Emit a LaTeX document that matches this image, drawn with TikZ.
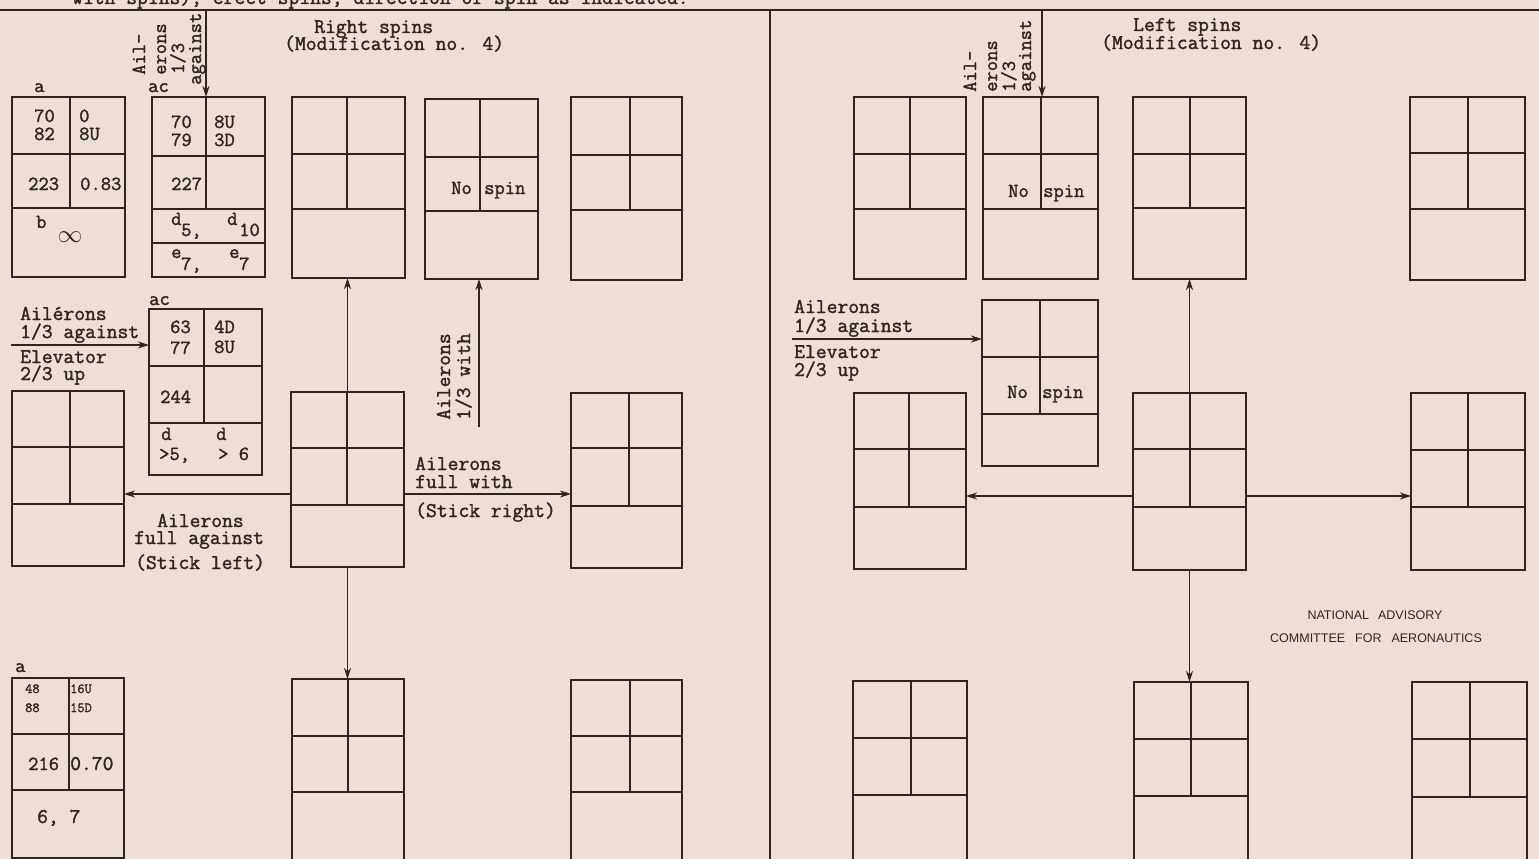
\documentclass[tikz,border=0pt]{standalone}
\usepackage{fontspec}
\newfontfamily\nacafont{Liberation Sans}
\newfontfamily\twfam{Latin Modern Mono}[FakeBold=1.6]
\usetikzlibrary{arrows.meta,calc}
\definecolor{paper}{HTML}{EEDFD5}
\definecolor{ink}{HTML}{2E2522}
\newcommand\twfont{\fontsize{20}{20}\selectfont\twfam}
\newcommand\ttlfont{\fontsize{21}{21}\selectfont\twfam}
\newcommand\smfont{\fontsize{14}{14}\selectfont\twfam}
\newcommand\spbox[8]{%
  \pgfmathsetmacro\bw{#4-#2}\pgfmathsetmacro\bh{#5-#3}%
  \node[spinbox, minimum width=\bw pt, minimum height=\bh pt, anchor=north west] (#1) at (#2,#3) {};
  \draw[gridline] (#2,#6) -- (#4,#6) (#2,#7) -- (#4,#7) (#8,#3) -- (#8,#7);
}
\newcommand\tx[5][tw]{\node[#1] (#2) at (#3,#4) {#5};}
\tikzset{
  spinbox/.style={draw=ink, line width=1.1pt, rectangle, inner sep=0pt, outer sep=0pt},
  gridline/.style={draw=ink, line width=1.1pt},
  arr/.style={draw=ink, line width=1.1pt, -{Stealth[length=11pt,width=7pt,inset=3.5pt]}},
  tw/.style={font=\twfont, text=ink, inner sep=0pt, anchor=base west},
  lab/.style={tw, font=\ttlfont},
  sm/.style={tw, font=\smfont},
  rot/.style={tw, rotate=90},
  rotl/.style={lab, rotate=90},
  naca/.style={font=\nacafont\fontsize{12.5}{12.5}\selectfont, text=ink, inner sep=0pt, anchor=base},
}
\begin{document}
\begin{tikzpicture}[x=1pt, y=-1pt]
\path[use as bounding box] (0,0) rectangle (1539,859);
\fill[paper] (0,0) rectangle (1539,859);
\clip (0,0) rectangle (1539,859);

% frame lines
\coordinate (TL) at (0,10);
\coordinate (TR) at (1539,10);
\coordinate (MT) at (770,10);
\coordinate (MB) at (770,859);
\draw[gridline] (TL) -- (TR);
\draw[gridline] (MT) -- (MB);
\tx[lab]{head}{72}{4}{with spins), erect spins, direction of spin as indicated.}

% ---------- Right spins ----------
\tx[lab]{rtitA}{314}{33}{Right spins}
\tx[lab]{rtitB}{284}{50}{(Modification no. 4)}

\spbox{A1}{12}{97}{125}{277}{154}{208}{70}
\spbox{A2}{152}{97}{265}{277}{156}{209}{206}
\draw[gridline] (A2.west |- 0,243) -- (A2.east |- 0,243);
\spbox{B1}{292}{97}{405}{278}{154}{209}{347}
\spbox{B2}{425}{99}{538}{279}{157}{211}{480}
\spbox{B3}{571}{97}{682}{280}{155}{210}{630}
\spbox{AC}{149}{309}{262}{475}{366}{423}{204}
\spbox{CL}{12}{391}{124}{566}{447}{504}{70}
\spbox{CC}{291}{392}{404}{567}{448}{505}{347}
\spbox{CR}{571}{393}{682}{568}{448}{506}{629}
\spbox{DL}{12}{678}{124}{858}{734}{790}{69}
\spbox{DC}{292}{679}{404}{861}{736}{792}{348}
\spbox{DR}{571}{680}{682}{861}{736}{792}{630}

% A1 texts
\tx{a1a}{34}{92}{a}
\tx{a1b}{34}{122}{70}
\tx{a1c}{34}{140}{82}
\tx{a1d}{79}{122}{0}
\tx{a1e}{79}{140}{8U}
\tx{a1f}{28}{190}{223}
\tx{a1g}{80}{190}{0.83}
\tx{a1h}{36}{228}{b}
\node[text=ink, inner sep=0pt, font=\fontsize{24}{24}\selectfont] (a1i) at (70,237) {$\infty$};

% A2 texts
\tx{a2a}{148}{92}{ac}
\tx{a2b}{171}{128}{70}
\tx{a2c}{171}{146}{79}
\tx{a2d}{214}{128}{8U}
\tx{a2e}{214}{146}{3D}
\tx{a2f}{171}{190}{227}
\tx{a2g}{171}{225}{d}
\tx{a2h}{181}{236}{5,}
\tx{a2i}{227}{225}{d}
\tx{a2j}{239}{236}{10}
\tx{a2k}{171}{258}{e}
\tx{a2l}{181}{270}{7,}
\tx{a2m}{229}{258}{e}
\tx{a2n}{239}{270}{7}

% rotated label, top left
\tx[rot]{ra1}{145}{75}{Ail-}
\tx[rot]{ra2}{166}{75}{erons}
\tx[rot]{ra3}{184}{74}{1/3}
\tx[rot]{ra4}{201}{85}{against}
\coordinate (tA) at (206,10);
\draw[arr] (tA) -- (tA |- A2.north);

% B2
\tx{b2a}{451}{194}{No}
\tx{b2b}{484}{194}{spin}

% AC box
\tx{aca}{149}{305}{ac}
\tx{acb}{170}{333}{63}
\tx{acc}{170}{354}{77}
\tx{acd}{214}{333}{4D}
\tx{ace}{214}{353}{8U}
\tx{acf}{160}{403}{244}
\tx{acg}{161}{440}{d}
\tx{ach}{216}{440}{d}
\tx{aci}{159}{460}{>5,}
\tx{acj}{218}{460}{> 6}

% left labels
\tx[lab]{la1}{20}{320}{Ailérons}
\tx[lab]{la2}{20}{338}{1/3 against}
\tx[lab]{la3}{20}{363}{Elevator}
\tx[lab]{la4}{20}{380}{2/3 up}
\coordinate (lA) at (11,345);
\draw[arr] (lA) -- (lA -| AC.west);

% center connectors
\draw[arr] (CC.north) -- (CC.north |- B1.south);
\draw[arr] (CC.south) -- (CC.south |- DC.north);
\draw[arr] ([yshift=-14.5pt]CC.west) -- ([yshift=-14.5pt]CC.west -| CL.east);
\draw[arr] ([yshift=-14.5pt]CC.east) -- ([yshift=-14.5pt]CC.east -| CR.west);
\coordinate (wA) at (479,427);
\draw[arr] (wA) -- (wA |- B2.south);
\tx[rotl]{wl1}{450}{420}{Ailerons}
\tx[rotl]{wl2}{470}{420}{1/3 with}

\tx[lab]{fa1}{157}{527}{Ailerons}
\tx[lab]{fa2}{134}{544}{full against}
\tx[lab]{fa3}{135}{569}{(Stick left)}
\tx[lab]{fw1}{415}{470}{Ailerons}
\tx[lab]{fw2}{415}{488}{full with}
\tx[lab]{fw3}{415}{517}{(Stick right)}

% DL box
\tx{dla}{15}{672}{a}
\tx[sm]{dlb}{25}{693}{48}
\tx[sm]{dlc}{25}{712}{88}
\tx[sm]{dld}{70}{693}{16U}
\tx[sm]{dle}{70}{712}{15D}
\tx{dlf}{28}{770}{216}
\tx[lab]{dlg}{70}{770}{0.70}
\tx[lab]{dlh}{37}{823}{6, 7}

% ---------- Left spins ----------
\tx[lab]{ltitA}{1133}{31}{Left spins}
\tx[lab]{ltitB}{1101}{49}{(Modification no. 4)}

\spbox{R1}{854}{97}{966}{279}{154}{209}{910}
\spbox{R2}{983}{97}{1098}{279}{154}{209}{1041}
\spbox{R3}{1133}{97}{1246}{279}{154}{208}{1190}
\spbox{R4}{1410}{97}{1525}{280}{153}{209}{1468}
\spbox{RN}{982}{300}{1098}{466}{357}{414}{1040}
\spbox{SL}{854}{393}{966}{569}{449}{507}{909}
\spbox{SC}{1133}{393}{1246}{570}{449}{507}{1190}
\spbox{SR}{1411}{393}{1525}{570}{450}{507}{1468}
\spbox{UL}{853}{681}{967}{861}{738}{795}{911}
\spbox{UC}{1134}{682}{1248}{861}{739}{796}{1191}
\spbox{UR}{1412}{682}{1527}{861}{739}{797}{1470}

\tx[rot]{rb1}{976}{92}{Ail-}
\tx[rot]{rb2}{997}{92}{erons}
\tx[rot]{rb3}{1015}{92}{1/3}
\tx[rot]{rb4}{1031}{92}{against}
\coordinate (tB) at (1042,10);
\draw[arr] (tB) -- (tB |- R2.north);

\tx{r2a}{1008}{197}{No}
\tx{r2b}{1043}{197}{spin}
\tx{rna}{1007}{398}{No}
\tx{rnb}{1042}{398}{spin}

\tx[lab]{lb1}{794}{313}{Ailerons}
\tx[lab]{lb2}{794}{332}{1/3 against}
\tx[lab]{lb3}{794}{358}{Elevator}
\tx[lab]{lb4}{794}{376}{2/3 up}
\coordinate (lB) at (792,339);
\draw[arr] (lB) -- (lB -| RN.west);

\draw[arr] (SC.north) -- (SC.north |- R3.south);
\draw[arr] (SC.south) -- (SC.south |- UC.north);
\draw[arr] ([yshift=-14.5pt]SC.west) -- ([yshift=-14.5pt]SC.west -| SL.east);
\draw[arr] ([yshift=-14.5pt]SC.east) -- ([yshift=-14.5pt]SC.east -| SR.west);

\node[naca] (naca1) at (1375,619) {NATIONAL\hspace{9pt}ADVISORY};
\node[naca] (naca2) at (1376,642) {COMMITTEE\hspace{10pt}FOR\hspace{10pt}AERONAUTICS};
\end{tikzpicture}
\end{document}
